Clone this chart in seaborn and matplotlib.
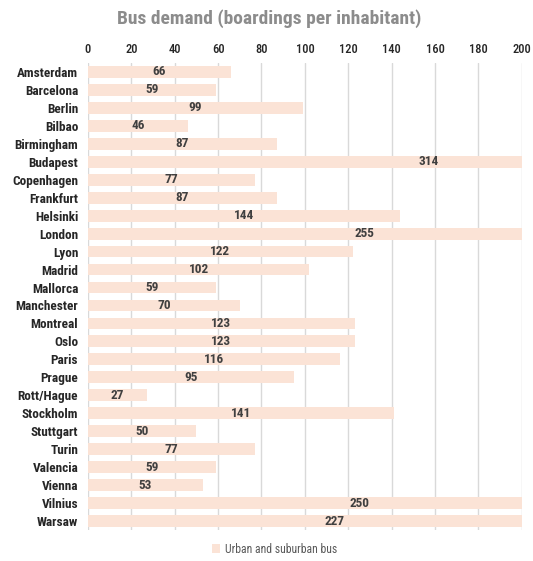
import matplotlib
matplotlib.use("Agg")
import matplotlib.pyplot as plt
import seaborn as sns
import pandas as pd
from matplotlib.patches import Patch

cities = ["Amsterdam", "Barcelona", "Berlin", "Bilbao", "Birmingham", "Budapest",
          "Copenhagen", "Frankfurt", "Helsinki", "London", "Lyon", "Madrid",
          "Mallorca", "Manchester", "Montreal", "Oslo", "Paris", "Prague",
          "Rott/Hague", "Stockholm", "Stuttgart", "Turin", "Valencia", "Vienna",
          "Vilnius", "Warsaw"]
values = [66, 59, 99, 46, 87, 314, 77, 87, 144, 255, 122, 102, 59, 70, 123, 123,
          116, 95, 27, 141, 50, 77, 59, 53, 250, 227]
xticks = [0, 20, 40, 60, 80, 100, 120, 140, 160, 180, 200]

df = pd.DataFrame({"city": cities, "value": values})

sns.set_theme(style="white")
plt.rcParams['font.family'] = ['Roboto Condensed', 'Archivo Narrow', 'Liberation Sans', 'DejaVu Sans']

fig = plt.figure(figsize=(5.33, 5.61), dpi=100)
ax = fig.add_axes([0.165, 0.055, 0.814, 0.833])

bar_color = "#FBE3D6"
sns.barplot(data=df, x="value", y="city", color=bar_color, width=0.66,
            orient="h", ax=ax, zorder=2, saturation=1, edgecolor="none")

ax.set_xlim(0, 200)
ax.set_xticks(xticks)
ax.xaxis.tick_top()
ax.tick_params(axis="x", length=0, pad=5, labelsize=9, labelcolor="#262626")
ax.tick_params(axis="y", length=0, pad=7, labelsize=9.5, labelcolor="#262626")
for lbl in ax.get_yticklabels():
    lbl.set_fontweight("bold")
for lbl in ax.get_xticklabels():
    lbl.set_fontweight("medium")
ax.set_xlabel("")
ax.set_ylabel("")
ax.grid(axis="x", color="#D9D9D9", linewidth=1.0, zorder=0)
ax.set_axisbelow(True)
for s in ax.spines.values():
    s.set_visible(False)
ax.set_ylim(len(cities) - 0.5, -0.5)

for i, v in enumerate(values):
    ax.text(v / 2, i, str(v), ha="center", va="center", fontsize=9.5,
            fontweight="bold", color="#404040", clip_on=False, zorder=3)

fig.text(0.505, 0.966, "Bus demand (boardings per inhabitant)", ha="center",
         va="center", fontsize=14, fontweight="bold", color="#8C8C8C")

fig.legend(handles=[Patch(facecolor=bar_color, edgecolor="none",
                          label="Urban and suburban bus")],
           loc="center", bbox_to_anchor=(0.515, 0.021), frameon=False,
           fontsize=8.5, handlelength=0.7, handleheight=0.7, handletextpad=0.4,
           labelcolor="#595959")

fig.savefig("out.png", dpi=100)
